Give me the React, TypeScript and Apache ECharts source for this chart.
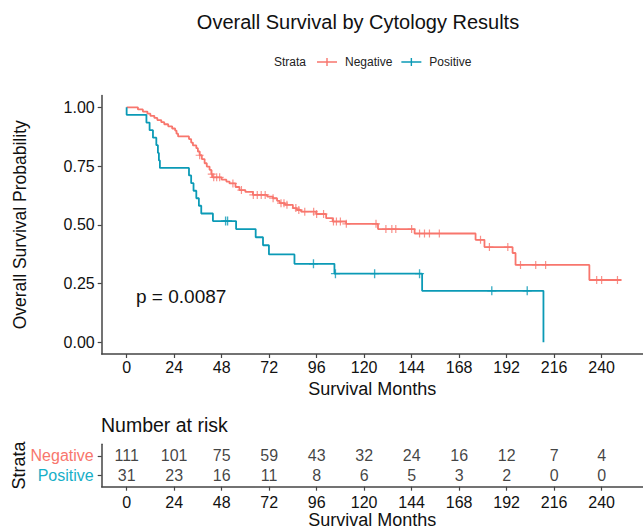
import React, { useEffect, useRef } from "react";
import * as echarts from "echarts";

// ---- data ----
const negSteps: [number, number][] = [
  [0, 1.0], [5.7, 0.991], [8.2, 0.982], [10.5, 0.973], [12, 0.964], [14, 0.955],
  [15.5, 0.946], [17.5, 0.937], [19, 0.928], [21, 0.919], [23, 0.91], [24.5, 0.901],
  [25.2, 0.888], [26, 0.876], [31.5, 0.865], [32.6, 0.85], [33.5, 0.838], [35.2, 0.826],
  [36, 0.812], [36.9, 0.796], [38, 0.78], [39.4, 0.762], [40.5, 0.748], [41.9, 0.734],
  [42.8, 0.716], [43.4, 0.702], [48, 0.692], [50.4, 0.684], [52, 0.676], [55, 0.661],
  [57, 0.648], [60, 0.64], [63.8, 0.627], [71, 0.62], [73.9, 0.613], [76, 0.602],
  [77.3, 0.592], [80, 0.585], [84, 0.571], [86, 0.563], [88.2, 0.556], [95.8, 0.546],
  [100.8, 0.528], [104.1, 0.514], [110.9, 0.504], [127, 0.482], [145.5, 0.463],
  [176.3, 0.436], [180.8, 0.405], [195, 0.38], [196.5, 0.329], [233.8, 0.265], [250, 0.265],
];
const negCensorTimes = [
  36.9, 43, 44, 45.5, 47, 53.7, 58, 64, 66, 68, 70, 74, 78, 79.5, 81, 85.5, 87, 90,
  94.5, 96, 99.5, 104.5, 106, 108, 111, 126, 131, 134, 136, 144, 148, 150.5, 153, 158,
  178.8, 183.3, 192.6, 199, 206.7, 211.7, 237.5, 240, 248,
];
const posSteps: [number, number][] = [
  [0, 1.0], [0, 0.968], [10, 0.935], [11.6, 0.903], [13.3, 0.871], [15, 0.839],
  [15.8, 0.806], [16.3, 0.774], [16.8, 0.742], [31.5, 0.71], [32.6, 0.677],
  [33.8, 0.645], [35.2, 0.613], [36.5, 0.581], [37.7, 0.548], [43.6, 0.516],
  [55.3, 0.482], [65.2, 0.447], [68.9, 0.413], [71.9, 0.374], [84.8, 0.334],
  [105, 0.292], [149.3, 0.219], [210.6, 0],
];
const posCensorTimes = [50, 51, 94.4, 105.5, 125.3, 148, 184.5, 202.4];

const riskTimes = [0, 24, 48, 72, 96, 120, 144, 168, 192, 216, 240];
const negAtRisk = [111, 101, 75, 59, 43, 32, 24, 16, 12, 7, 4];
const posAtRisk = [31, 23, 16, 11, 8, 6, 5, 3, 2, 0, 0];

const xTicks = [0, 24, 48, 72, 96, 120, 144, 168, 192, 216, 240];
const yTicks = [0, 0.25, 0.5, 0.75, 1];
const strata = ["Negative", "Positive"];

const RED = "#F8766D";
const BLUE = "#0B9AB6";
const BLUE_TXT = "#17AFC8";
const FONT = '"Liberation Sans", Arial, Helvetica, sans-serif';
const TXT = "#111";
const AX = "#444";

function survAt(steps: [number, number][], t: number): number {
  let s = steps[0][1];
  for (const [time, v] of steps) {
    if (time <= t) s = v;
    else break;
  }
  return s;
}

const PLUS =
  "path://M0,4.25 L10,4.25 L10,5.75 L0,5.75 Z M4.25,0 L5.75,0 L5.75,10 L4.25,10 Z";
const LEG_ICON =
  "path://M0,3.3 L20,3.3 L20,4.7 L0,4.7 Z M9.3,0 L10.7,0 L10.7,8 L9.3,8 Z";

export default function App() {
  const ref = useRef<HTMLDivElement>(null);
  useEffect(() => {
    if (!ref.current) return;
    const chart = echarts.init(ref.current, undefined, { renderer: "svg" });

    const xMin = -12.6;
    const xMax = 260.9;

    const baseX = (gridIndex: number, labelMargin: number, nameGap: number) => ({
      type: "value" as const,
      gridIndex,
      min: xMin,
      max: xMax,
      name: "Survival Months",
      nameLocation: "middle" as const,
      nameGap,
      nameMoveOverlap: false,
      nameTextStyle: { fontFamily: FONT, fontSize: 18, color: TXT },
      axisLine: { show: true, onZero: false, lineStyle: { color: AX, width: 1.5 } },
      axisTick: { show: true, length: 4, customValues: xTicks, lineStyle: { color: AX, width: 1.2 } },
      axisLabel: {
        customValues: xTicks,
        margin: labelMargin,
        fontFamily: FONT,
        fontSize: 16,
        color: TXT,
      },
      splitLine: { show: false },
    });

    chart.setOption({
      animation: false,
      backgroundColor: "#fff",
      title: [
        {
          text: "Overall Survival by Cytology Results",
          left: 358,
          top: 12,
          textAlign: "center",
          padding: 0,
          textStyle: { fontFamily: FONT, fontSize: 20, fontWeight: "normal", color: TXT },
        },
        {
          text: "Number at risk",
          left: 101,
          top: 415,
          padding: 0,
          textStyle: { fontFamily: FONT, fontSize: 19.5, fontWeight: "normal", color: TXT },
        },
      ],
      legend: {
        data: strata,
        left: 317,
        top: 56,
        padding: 0,
        itemWidth: 20,
        itemHeight: 8,
        itemGap: 9,
        icon: LEG_ICON,
        selectedMode: false,
        textStyle: { fontFamily: FONT, fontSize: 12, color: "#222", padding: [0, 0, 0, 3] },
      },
      graphic: [
        {
          type: "text",
          left: 274,
          top: 56,
          style: { text: "Strata", fontFamily: FONT, fontSize: 12, fill: "#222" },
        },
        {
          type: "text",
          left: 136,
          top: 287,
          style: { text: "p = 0.0087", fontFamily: FONT, fontSize: 19, fill: TXT },
        },
      ],
      grid: [
        { left: 101.7, top: 95.6, right: 0, height: 258.4, outerBoundsMode: "none", containLabel: false },
        { left: 101.7, top: 444.3, right: 0, height: 42.4, outerBoundsMode: "none", containLabel: false },
      ],
      xAxis: [baseX(0, 5, 26), baseX(1, 8, 24.5)],
      yAxis: [
        {
          type: "value",
          gridIndex: 0,
          min: -0.05,
          max: 1.05,
          name: "Overall Survival Probability",
          nameLocation: "middle",
          nameGap: 73,
          nameMoveOverlap: false,
          nameTextStyle: { fontFamily: FONT, fontSize: 17.5, color: TXT },
          axisLine: { show: true, onZero: false, lineStyle: { color: AX, width: 1.5 } },
          axisTick: { show: true, length: 4, customValues: yTicks, lineStyle: { color: AX, width: 1.2 } },
          axisLabel: {
            customValues: yTicks,
            margin: 7,
            fontFamily: FONT,
            fontSize: 16,
            color: TXT,
            formatter: (v: number) => v.toFixed(2),
          },
          splitLine: { show: false },
        },
        {
          type: "value",
          gridIndex: 1,
          min: 0.4,
          max: 2.6,
          name: "Strata",
          nameLocation: "middle",
          nameGap: 74,
          nameMoveOverlap: false,
          nameTextStyle: { fontFamily: FONT, fontSize: 18, color: TXT },
          axisLine: { show: true, onZero: false, lineStyle: { color: AX, width: 1.5 } },
          axisTick: { show: true, length: 4, customValues: [1, 2], lineStyle: { color: AX, width: 1.2 } },
          axisLabel: {
            customValues: [1, 2],
            margin: 8,
            formatter: (v: number) => (v === 2 ? "{neg|Negative}" : "{pos|Positive}"),
            rich: {
              neg: { fontFamily: FONT, fontSize: 16, color: RED },
              pos: { fontFamily: FONT, fontSize: 16, color: BLUE_TXT },
            },
          },
          splitLine: { show: false },
        },
      ],
      series: [
        {
          name: "Negative",
          type: "line",
          xAxisIndex: 0,
          yAxisIndex: 0,
          step: "end",
          showSymbol: false,
          silent: true,
          color: RED,
          itemStyle: { color: RED },
          lineStyle: { color: RED, width: 1.8 },
          data: negSteps,
        },
        {
          name: "Positive",
          type: "line",
          xAxisIndex: 0,
          yAxisIndex: 0,
          step: "end",
          showSymbol: false,
          silent: true,
          color: BLUE,
          itemStyle: { color: BLUE },
          lineStyle: { color: BLUE, width: 1.8 },
          data: posSteps,
        },
        {
          name: "Negative censored",
          type: "scatter",
          xAxisIndex: 0,
          yAxisIndex: 0,
          symbol: PLUS,
          symbolSize: 8,
          silent: true,
          itemStyle: { color: RED },
          data: negCensorTimes.map((t) => [t, survAt(negSteps, t)]),
        },
        {
          name: "Positive censored",
          type: "scatter",
          xAxisIndex: 0,
          yAxisIndex: 0,
          symbol: PLUS,
          symbolSize: 9,
          silent: true,
          itemStyle: { color: BLUE },
          data: posCensorTimes.map((t) => [t, survAt(posSteps, t)]),
        },
        {
          name: "Negative at risk",
          type: "scatter",
          xAxisIndex: 1,
          yAxisIndex: 1,
          symbolSize: 1,
          silent: true,
          itemStyle: { color: "rgba(0,0,0,0)" },
          label: {
            show: true,
            position: "inside",
            formatter: (p: any) => String(p.value[2]),
            fontFamily: FONT,
            fontSize: 16,
            color: TXT,
          },
          data: riskTimes.map((t, i) => [t, 2, negAtRisk[i]]),
        },
        {
          name: "Positive at risk",
          type: "scatter",
          xAxisIndex: 1,
          yAxisIndex: 1,
          symbolSize: 1,
          silent: true,
          itemStyle: { color: "rgba(0,0,0,0)" },
          label: {
            show: true,
            position: "inside",
            formatter: (p: any) => String(p.value[2]),
            fontFamily: FONT,
            fontSize: 16,
            color: TXT,
          },
          data: riskTimes.map((t, i) => [t, 1, posAtRisk[i]]),
        },
      ],
    });
    return () => chart.dispose();
  }, []);

  return (
    <div
      ref={ref}
      style={{ position: "absolute", left: 0, top: 0, width: 643, height: 530, background: "#fff" }}
    />
  );
}
